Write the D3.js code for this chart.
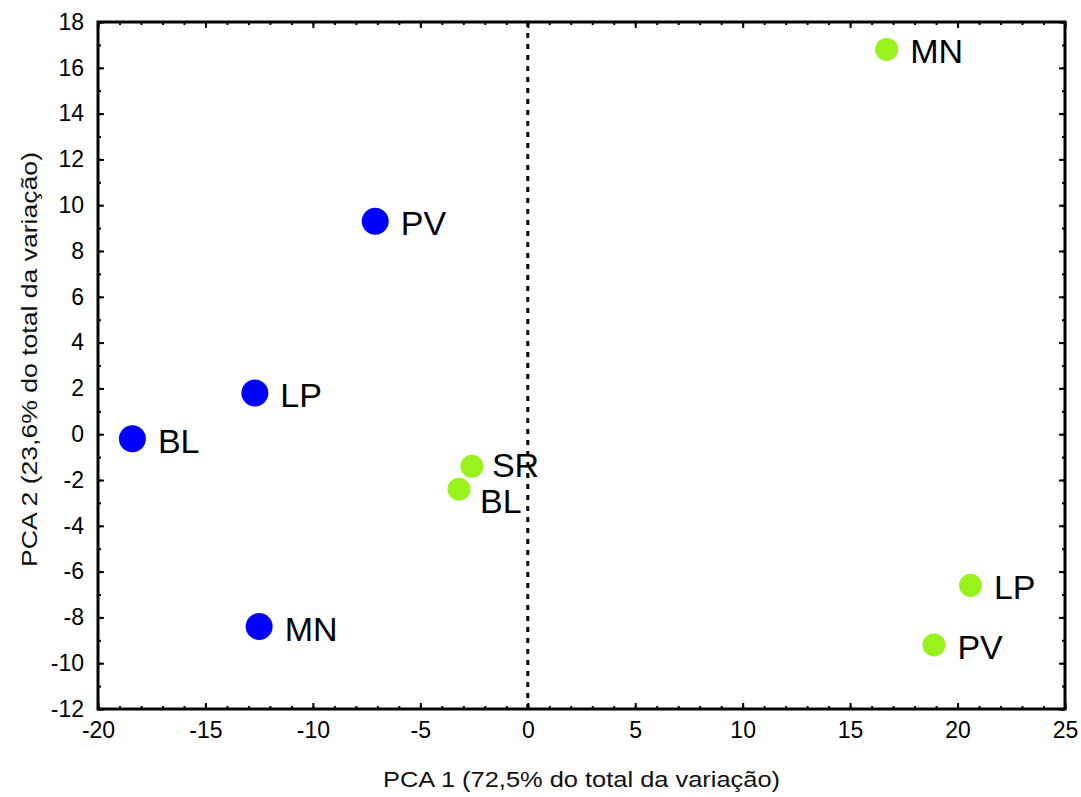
<!DOCTYPE html>
<html>
<head>
<meta charset="utf-8">
<script src="https://cdn.jsdelivr.net/npm/d3@7"></script>
<style>
  html, body { margin: 0; padding: 0; background: #fff; }
  svg { display: block; font-family: "Liberation Sans", Arial, sans-serif; }
</style>
</head>
<body>
<svg id="chart" width="1081" height="797"></svg>
<script>
// Sample scores on the first two principal components
const sites = ["PV", "LP", "BL", "MN", "MN", "SR", "BL", "LP", "PV"];
const groups = ["A", "A", "A", "A", "B", "B", "B", "B", "B"];
const pc1 = [-7.1, -12.7, -18.4, -12.5, 16.7, -2.6, -3.2, 20.6, 18.9];
const pc2 = [9.3, 1.8, -0.2, -8.4, 16.8, -1.4, -2.4, -6.6, -9.2];

const xTicks = [-20, -15, -10, -5, 0, 5, 10, 15, 20, 25];
const yTicks = [-12, -10, -8, -6, -4, -2, 0, 2, 4, 6, 8, 10, 12, 14, 16, 18];
const xTitle = "PCA 1 (72,5% do total da variação)";
const yTitle = "PCA 2 (23,6% do total da variação)";

const svg = d3.select("#chart");
const margin = { left: 98, right: 16, top: 22, bottom: 88 };
const W = 1081, H = 797;
const iw = W - margin.left - margin.right;
const ih = H - margin.top - margin.bottom;

const x = d3.scaleLinear().domain([-20, 25]).range([margin.left, margin.left + iw]);
const y = d3.scaleLinear().domain([-12, 18]).range([margin.top + ih, margin.top]);

const color = { A: "#0000ff", B: "#99f21c" };
const radius = { A: 13.5, B: 11.5 };
const fmt = d => String(d); // plain hyphen-minus

// Inward ticks on all four sides: majors labelled, minors at every unit
const minorX = d3.range(-20, 25.01, 1);
const minorY = d3.range(-12, 18.01, 1);

function tickAxis(axisFn, scale, values, size, transform) {
  const g = svg.append("g").attr("transform", transform);
  g.call(axisFn(scale).tickValues(values).tickSize(size).tickFormat(""));
  g.select(".domain").remove();
  g.selectAll("line").attr("stroke", "#000").attr("stroke-width", 2);
  return g;
}
const bottomY = margin.top + ih, rightX = margin.left + iw;
tickAxis(d3.axisTop, x, minorX, 3, `translate(0,${bottomY})`);
tickAxis(d3.axisTop, x, xTicks, 6, `translate(0,${bottomY})`);
tickAxis(d3.axisBottom, x, minorX, 3, `translate(0,${margin.top})`);
tickAxis(d3.axisBottom, x, xTicks, 6, `translate(0,${margin.top})`);
tickAxis(d3.axisRight, y, minorY, 3, `translate(${margin.left},0)`);
tickAxis(d3.axisRight, y, yTicks, 6, `translate(${margin.left},0)`);
tickAxis(d3.axisLeft, y, minorY, 3, `translate(${rightX},0)`);
tickAxis(d3.axisLeft, y, yTicks, 6, `translate(${rightX},0)`);

// Tick labels
const xl = svg.append("g").attr("transform", `translate(0,${bottomY})`)
  .call(d3.axisBottom(x).tickValues(xTicks).tickFormat(fmt).tickSize(0).tickPadding(13));
xl.select(".domain").remove();
xl.selectAll("text").attr("font-size", 23).attr("fill", "#000")
  .attr("font-family", "Liberation Sans, Arial, sans-serif");

const yl = svg.append("g").attr("transform", `translate(${margin.left},0)`)
  .call(d3.axisLeft(y).tickValues(yTicks).tickFormat(fmt).tickSize(0).tickPadding(14));
yl.select(".domain").remove();
yl.selectAll("text").attr("font-size", 23).attr("fill", "#000")
  .attr("font-family", "Liberation Sans, Arial, sans-serif");

// Frame
svg.append("rect")
  .attr("x", margin.left).attr("y", margin.top)
  .attr("width", iw).attr("height", ih)
  .attr("fill", "none").attr("stroke", "#000").attr("stroke-width", 3);

// Zero reference line on PC1
svg.append("line")
  .attr("x1", x(0)).attr("x2", x(0))
  .attr("y1", margin.top).attr("y2", bottomY)
  .attr("stroke", "#000").attr("stroke-width", 3)
  .attr("stroke-dasharray", "5,6");

// Points and site labels
const pts = sites.map((s, i) => ({ site: s, group: groups[i], x: pc1[i], y: pc2[i] }));

svg.append("g").selectAll("circle").data(pts).join("circle")
  .attr("cx", d => x(d.x)).attr("cy", d => y(d.y))
  .attr("r", d => radius[d.group])
  .attr("fill", d => color[d.group]);

// The two close samples near the origin: stack their labels
function labelPos(d) {
  let dx = radius[d.group] + 12, dy = 14;
  if (d.group === "B" && d.site === "BL") { dx = 21; dy = 24; }
  if (d.group === "B" && d.site === "SR") { dx = 20; dy = 11; }
  return [x(d.x) + dx, y(d.y) + dy];
}
svg.append("g").selectAll("text").data(pts).join("text")
  .attr("x", d => labelPos(d)[0]).attr("y", d => labelPos(d)[1])
  .attr("font-size", 34).attr("fill", "#000")
  .text(d => d.site);

// Axis titles
svg.append("text")
  .attr("x", 383).attr("y", 787)
  .attr("textLength", 397).attr("lengthAdjust", "spacingAndGlyphs")
  .attr("font-size", 22).attr("fill", "#111")
  .text(xTitle);
svg.append("text")
  .attr("transform", `translate(37,567) rotate(-90)`)
  .attr("textLength", 415).attr("lengthAdjust", "spacingAndGlyphs")
  .attr("font-size", 22).attr("fill", "#111")
  .text(yTitle);
</script>
</body>
</html>
